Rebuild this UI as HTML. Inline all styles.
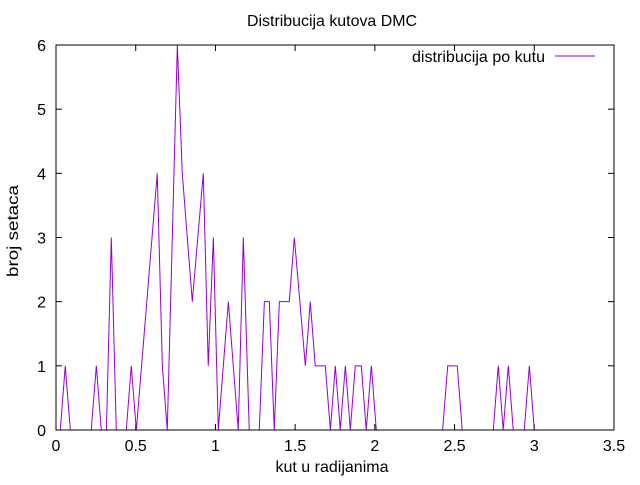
<!DOCTYPE html>
<html><head><meta charset="utf-8"><style>
html,body{margin:0;padding:0;background:#fff;}
svg text{font-family:"Liberation Sans",Arial,sans-serif;fill:#000;}
</style></head><body>
<svg id="chart" width="640" height="480" xmlns="http://www.w3.org/2000/svg">
<rect width="640" height="480" fill="#fff"/>
<text x="332" y="26" font-size="16" text-anchor="middle" textLength="170" lengthAdjust="spacingAndGlyphs">Distribucija kutova DMC</text>
<g id="ticks"></g>
<g id="series"></g>
<rect x="56" y="45" width="558" height="385" fill="none" stroke="#000" stroke-width="1"/>
<text x="332" y="472" font-size="16" text-anchor="middle" textLength="113" lengthAdjust="spacingAndGlyphs">kut u radijanima</text>
<text x="0" y="0" font-size="16" text-anchor="middle" textLength="92" lengthAdjust="spacingAndGlyphs" transform="translate(18,231) rotate(-90)">broj setaca</text>
<g>
<text x="412" y="62" font-size="16" textLength="133" lengthAdjust="spacingAndGlyphs">distribucija po kutu</text>
<line x1="555" y1="56" x2="595" y2="56" stroke="#9400d3" stroke-width="1"/>
</g>
</svg>
<script>
const xTicks = [0, 0.5, 1, 1.5, 2, 2.5, 3, 3.5];
const xTickLabels = ["0", "0.5", "1", "1.5", "2", "2.5", "3", "3.5"];
const yTicks = [0, 1, 2, 3, 4, 5, 6];
const yTickLabels = ["0", "1", "2", "3", "4", "5", "6"];
const xValues = [0.027,0.058,0.090,0.221,0.253,0.284,0.316,0.347,0.378,0.441,0.472,0.504,0.635,0.667,0.698,0.761,0.792,0.855,0.924,0.955,0.987,1.018,1.081,1.143,1.175,1.212,1.275,1.307,1.338,1.369,1.401,1.463,1.495,1.564,1.595,1.626,1.689,1.721,1.752,1.783,1.815,1.846,1.877,1.915,1.946,1.978,2.009,2.425,2.457,2.517,2.548,2.743,2.774,2.805,2.837,2.868,2.937,2.969,3.000];
const yValues = [0,1,0,0,1,0,0,3,0,0,1,0,4,1,0,6,4,2,4,1,3,0,2,0,3,0,0,2,2,0,2,2,3,1,2,1,1,0,1,0,1,0,1,1,0,1,0,0,1,1,0,0,1,0,1,0,0,1,0];

const X0 = 56, X1 = 614, Y0 = 430, Y1 = 45;
const xMin = 0, xMax = 3.5, yMin = 0, yMax = 6;
function xScale(v){ return X0 + (v - xMin) / (xMax - xMin) * (X1 - X0); }
function yScale(v){ return Y0 - (v - yMin) / (yMax - yMin) * (Y0 - Y1); }
const NS = "http://www.w3.org/2000/svg";
const ticks = document.getElementById("ticks");
const series = document.getElementById("series");

xTicks.forEach((t, i) => {
  const x = xScale(t);
  const l1 = document.createElementNS(NS, "line");
  
  
  l1.setAttribute("x1", x); l1.setAttribute("x2", x);
  l1.setAttribute("y1", Y0); l1.setAttribute("y2", Y0 - 6);
  l1.setAttribute("stroke", "#000");
  ticks.appendChild(l1);
  const l2 = document.createElementNS(NS, "line");
  
  
  l2.setAttribute("x1", x); l2.setAttribute("x2", x);
  l2.setAttribute("y1", Y1); l2.setAttribute("y2", Y1 + 6);
  l2.setAttribute("stroke", "#000");
  ticks.appendChild(l2);
  const tx = document.createElementNS(NS, "text");
  
  
  tx.setAttribute("x", x); tx.setAttribute("y", 451);
  tx.setAttribute("font-size", "16");
  tx.setAttribute("text-anchor", "middle");
  tx.textContent = xTickLabels[i];
  ticks.appendChild(tx);
});

yTicks.forEach((t, i) => {
  const y = yScale(t);
  const l1 = document.createElementNS(NS, "line");
  
  
  l1.setAttribute("x1", X0); l1.setAttribute("x2", X0 + 6);
  l1.setAttribute("y1", y); l1.setAttribute("y2", y);
  l1.setAttribute("stroke", "#000");
  ticks.appendChild(l1);
  const l2 = document.createElementNS(NS, "line");
  
  
  l2.setAttribute("x1", X1); l2.setAttribute("x2", X1 - 6);
  l2.setAttribute("y1", y); l2.setAttribute("y2", y);
  l2.setAttribute("stroke", "#000");
  ticks.appendChild(l2);
  const tx = document.createElementNS(NS, "text");
  
  
  tx.setAttribute("x", 46); tx.setAttribute("y", y + 6);
  tx.setAttribute("font-size", "16");
  tx.setAttribute("text-anchor", "end");
  tx.textContent = yTickLabels[i];
  ticks.appendChild(tx);
});

const pts = xValues.map((v, i) => xScale(v).toFixed(2) + "," + yScale(yValues[i]).toFixed(2)).join(" ");
const pl = document.createElementNS(NS, "polyline");


pl.setAttribute("points", pts);
pl.setAttribute("fill", "none");
pl.setAttribute("stroke", "#9400d3");
pl.setAttribute("stroke-width", "1");
series.appendChild(pl);
</script>
</body></html>
